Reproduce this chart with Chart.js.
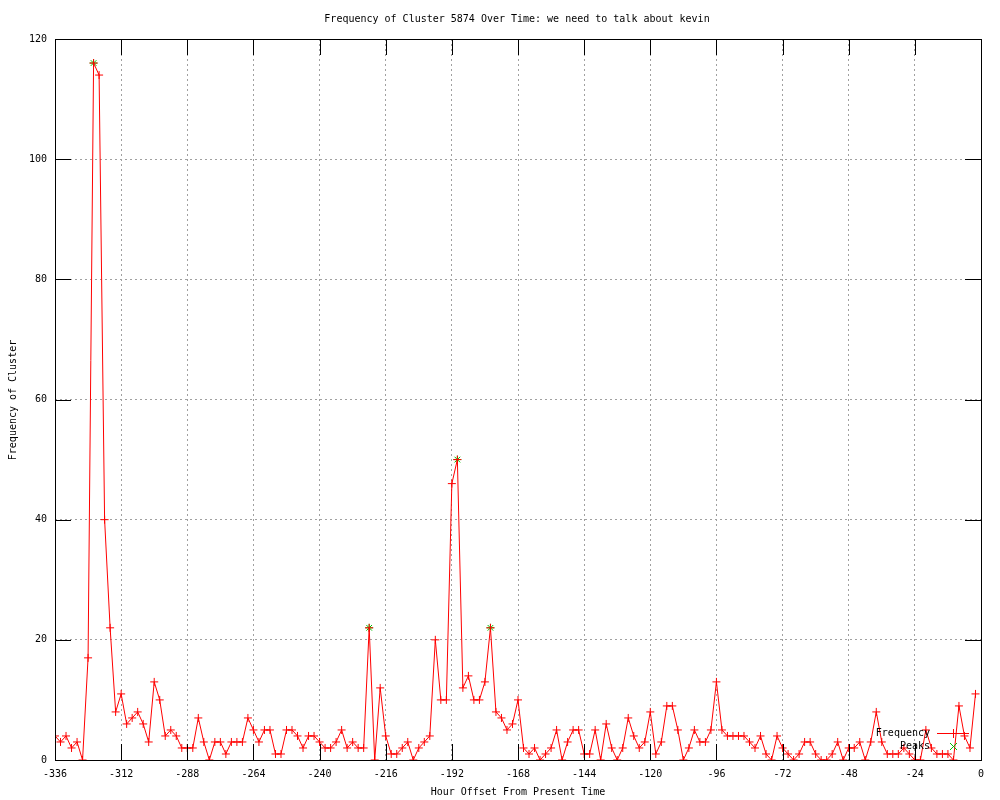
<!DOCTYPE html>
<html>
<head>
<meta charset="utf-8">
<title>Frequency of Cluster 5874</title>
<script src="https://cdn.jsdelivr.net/npm/chart.js@4/dist/chart.umd.min.js"></script>
<style>
    body { margin:0; background:#fff; }
    #grafico { display:block; }
</style>
</head>
<body>
<canvas id="grafico" width="1000" height="800"></canvas>
<script>
// Dados do grafico (horas de -336 a -2, de 2 em 2)
var horas = [];
for (var h = -336; h <= -2; h += 2) { horas.push(h); }

var frequencia = [
    4, 3, 4, 2, 3, 0, 17, 116, 114, 40, 22, 8, 11, 6, 7, 8, 6, 3, 13, 10,
    4, 5, 4, 2, 2, 2, 7, 3, 0, 3, 3, 1, 3, 3, 3, 7, 5, 3, 5, 5,
    1, 1, 5, 5, 4, 2, 4, 4, 3, 2, 2, 3, 5, 2, 3, 2, 2, 22, 0, 12,
    4, 1, 1, 2, 3, 0, 2, 3, 4, 20, 10, 10, 46, 50, 12, 14, 10, 10, 13, 22,
    8, 7, 5, 6, 10, 2, 1, 2, 0, 1, 2, 5, 0, 3, 5, 5, 1, 1, 5, 0,
    6, 2, 0, 2, 7, 4, 2, 3, 8, 1, 3, 9, 9, 5, 0, 2, 5, 3, 3, 5,
    13, 5, 4, 4, 4, 4, 3, 2, 4, 1, 0, 4, 2, 1, 0, 1, 3, 3, 1, 0,
    0, 1, 3, 0, 2, 2, 3, 0, 3, 8, 3, 1, 1, 1, 2, 1, 0, 0, 5, 2,
    1, 1, 1, 0, 9, 4, 2, 11
];

var picosHoras = [-322, -222, -190, -178];
var picosValores = [116, 22, 50, 22];

var ticksX = [-336, -312, -288, -264, -240, -216, -192, -168, -144, -120, -96, -72, -48, -24, 0];
var ticksY = [0, 20, 40, 60, 80, 100, 120];

var FONTE = '"DejaVu Sans Mono", "Liberation Mono", monospace';

// Plugin para desenhar a moldura, ticks internos, titulos e legenda no estilo gnuplot
var estiloGnuplot = {
    id: 'estiloGnuplot',
    afterDraw: function(chart) {
        var ctx = chart.ctx;
        var area = chart.chartArea;
        var sx = chart.scales.x;
        var sy = chart.scales.y;
        var tam = 16;

        ctx.save();
        ctx.strokeStyle = '#000';
        ctx.lineWidth = 1;
        ctx.beginPath();
        ticksX.forEach(function(v) {
            var px = Math.round(sx.getPixelForValue(v)) + 0.5;
            ctx.moveTo(px, area.bottom);
            ctx.lineTo(px, area.bottom - tam);
            ctx.moveTo(px, area.top);
            ctx.lineTo(px, area.top + tam);
        });
        ticksY.forEach(function(v) {
            var py = Math.round(sy.getPixelForValue(v)) + 0.5;
            ctx.moveTo(area.left, py);
            ctx.lineTo(area.left + tam, py);
            ctx.moveTo(area.right, py);
            ctx.lineTo(area.right - tam, py);
        });
        ctx.stroke();
        ctx.strokeRect(Math.round(area.left) + 0.5, Math.round(area.top) + 0.5,
            Math.round(area.right - area.left), Math.round(area.bottom - area.top));

        // titulos
        ctx.fillStyle = '#000';
        ctx.font = '10px ' + FONTE;
        ctx.textAlign = 'center';
        ctx.textBaseline = 'middle';
        ctx.fillText('Frequency of Cluster 5874 Over Time: we need to talk about kevin', 517, 19);
        ctx.fillText('Hour Offset From Present Time', 518, 792);
        ctx.save();
        ctx.translate(13, 400);
        ctx.rotate(-Math.PI / 2);
        ctx.fillText('Frequency of Cluster', 0, 0);
        ctx.restore();

        // legenda
        ctx.textAlign = 'right';
        ctx.fillText('Frequency', 930, 733);
        ctx.fillText('Peaks', 930, 746);
        ctx.strokeStyle = '#ff0000';
        ctx.beginPath();
        ctx.moveTo(937, 733.5);
        ctx.lineTo(969, 733.5);
        ctx.moveTo(953.5, 729);
        ctx.lineTo(953.5, 738);
        ctx.stroke();
        ctx.strokeStyle = '#00c000';
        ctx.beginPath();
        ctx.moveTo(950, 743);
        ctx.lineTo(957, 750);
        ctx.moveTo(957, 743);
        ctx.lineTo(950, 750);
        ctx.stroke();
        ctx.restore();
    }
};

window.onload = function(){
    var contexto = document.getElementById("grafico").getContext("2d");

    var pontosFreq = horas.map(function(h, i) { return {x: h, y: frequencia[i]}; });
    var pontosPicos = picosHoras.map(function(h, i) { return {x: h, y: picosValores[i]}; });

    var grafico = new Chart(contexto, {
        type: 'line',
        data: {
            datasets: [{
                label: 'Frequency',
                data: pontosFreq,
                borderColor: '#ff0000',
                backgroundColor: '#ff0000',
                borderWidth: 1,
                pointStyle: 'cross',
                pointRadius: 4,
                pointBorderWidth: 1,
                pointBorderColor: '#ff0000',
                tension: 0,
                fill: false,
                order: 0
            }, {
                label: 'Peaks',
                type: 'scatter',
                data: pontosPicos,
                showLine: false,
                pointStyle: 'star',
                pointRadius: 4,
                pointBorderWidth: 1,
                pointBorderColor: '#00c000',
                backgroundColor: '#00c000',
                order: 1
            }]
        },
        options: {
            responsive: false,
            animation: false,
            layout: { padding: { top: 39, right: 19, left: 0, bottom: 0 } },
            plugins: {
                legend: { display: false },
                title: { display: false },
                tooltip: { enabled: false }
            },
            scales: {
                x: {
                    type: 'linear',
                    min: -336,
                    max: 0,
                    afterFit: function(scale) { scale.height = 40; },
                    afterBuildTicks: function(scale) {
                        scale.ticks = ticksX.map(function(v) { return {value: v}; });
                    },
                    ticks: {
                        color: '#000',
                        font: { family: FONTE, size: 10 },
                        padding: 8,
                        maxRotation: 0,
                        autoSkip: false
                    },
                    grid: {
                        color: '#a0a0a0',
                        lineWidth: 1,
                        drawTicks: false
                    },
                    border: { display: false, dash: [2, 3] }
                },
                y: {
                    min: 0,
                    max: 120,
                    afterFit: function(scale) { scale.width = 55; },
                    afterBuildTicks: function(scale) {
                        scale.ticks = ticksY.map(function(v) { return {value: v}; });
                    },
                    ticks: {
                        color: '#000',
                        font: { family: FONTE, size: 10 },
                        padding: 8
                    },
                    grid: {
                        color: '#a0a0a0',
                        lineWidth: 1,
                        drawTicks: false
                    },
                    border: { display: false, dash: [2, 3] }
                }
            }
        },
        plugins: [estiloGnuplot]
    });
}
</script>
</body>
</html>
